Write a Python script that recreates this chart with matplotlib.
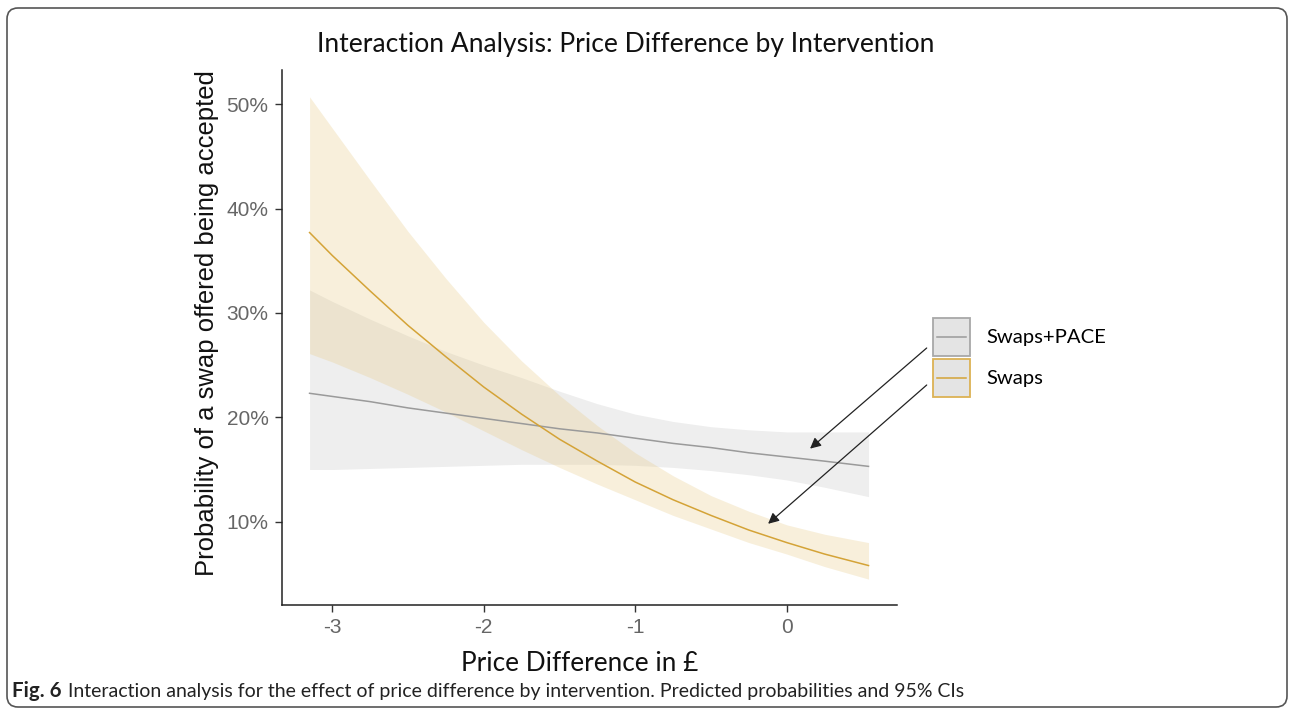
import matplotlib
matplotlib.use("Agg")
import matplotlib.pyplot as plt
from matplotlib.patches import FancyBboxPatch, Rectangle
from matplotlib.lines import Line2D
from matplotlib.transforms import IdentityTransform
from matplotlib.legend_handler import HandlerBase

# ---------------- data ----------------
price_diff = [-3.15, -3.0, -2.75, -2.5, -2.25, -2.0, -1.75, -1.5,
              -1.25, -1.0, -0.75, -0.5, -0.25, 0.0, 0.25, 0.54]

swaps_mid = [37.7, 35.5, 32.1, 28.8, 25.8, 22.9, 20.3, 17.9,
             15.8, 13.8, 12.1, 10.6, 9.2, 8.0, 6.9, 5.8]
swaps_lo = [26.1, 25.3, 23.8, 22.2, 20.5, 18.7, 16.9, 15.2,
            13.6, 12.1, 10.6, 9.3, 8.0, 6.9, 5.7, 4.5]
swaps_hi = [50.7, 47.7, 42.7, 37.8, 33.3, 29.1, 25.4, 22.1,
            19.2, 16.6, 14.4, 12.5, 11.0, 9.7, 8.8, 8.0]

pace_mid = [22.3, 22.0, 21.5, 20.9, 20.4, 19.9, 19.4, 18.9,
            18.5, 18.0, 17.5, 17.1, 16.6, 16.2, 15.8, 15.3]
pace_lo = [15.0, 15.0, 15.1, 15.2, 15.3, 15.4, 15.5, 15.5,
           15.5, 15.4, 15.2, 14.9, 14.5, 14.0, 13.3, 12.4]
pace_hi = [32.2, 31.1, 29.4, 27.8, 26.3, 25.0, 23.8, 22.5,
           21.3, 20.3, 19.6, 19.1, 18.8, 18.6, 18.6, 18.6]

series_names = ["Swaps+PACE", "Swaps"]
x_ticks = [-3, -2, -1, 0]
x_tick_labels = ["-3", "-2", "-1", "0"]
y_ticks = [10, 20, 30, 40, 50]
y_tick_labels = ["10%", "20%", "30%", "40%", "50%"]

title_text = "Interaction Analysis: Price Difference by Intervention"
xlabel_text = "Price Difference in \u00a3"
ylabel_text = "Probability of a swap offered being accepted"
caption_bold = "Fig. 6"
caption_text = ("Interaction analysis for the effect of price difference by intervention. "
                "Predicted probabilities and 95% CIs")

# ---------------- styling ----------------
W, H, DPI = 1292, 711, 100
GOLD = "#d4a337"
GOLD_FILL = (0.91, 0.80, 0.54)
GREY_LINE = "#9a9a9a"
GREY_FILL = (0.78, 0.78, 0.78)


def fx(p):
    return p / W


def fy(p):
    return 1 - p / H


class LegendKey:
    def __init__(self, edge, line):
        self.edge = edge
        self.line = line


class BoxLineHandler(HandlerBase):
    def create_artists(self, legend, orig_handle, xdescent, ydescent,
                       width, height, fontsize, trans):
        x0, y0 = -xdescent, -ydescent
        rect = Rectangle((x0, y0), width, height, facecolor="#e4e4e4",
                         edgecolor=orig_handle.edge, lw=1.3, transform=trans)
        cy = y0 + height / 2
        inset = width * 0.11
        ln = Line2D([x0 + inset, x0 + width - inset], [cy, cy],
                    color=orig_handle.line, lw=1.1, transform=trans)
        return [rect, ln]


fig = plt.figure(figsize=(W / DPI, H / DPI), dpi=DPI)
fig.patch.set_facecolor("white")

ax = fig.add_axes([fx(281.7), fy(605), (896.7 - 281.7) / W, (605 - 70) / H])
ax.fill_between(price_diff, pace_lo, pace_hi, color=GREY_FILL, alpha=0.3, lw=0)
ax.fill_between(price_diff, swaps_lo, swaps_hi, color=GOLD_FILL, alpha=0.3, lw=0)
ax.plot(price_diff, pace_mid, color=GREY_LINE, lw=1.1)
ax.plot(price_diff, swaps_mid, color=GOLD, lw=1.1)

ax.set_xlim(-3.334, 0.726)
ax.set_ylim(2.02, 53.27)
ax.set_xticks(x_ticks)
ax.set_xticklabels(x_tick_labels)
ax.set_yticks(y_ticks)
ax.set_yticklabels(y_tick_labels)
for s in ["top", "right"]:
    ax.spines[s].set_visible(False)
for s in ["left", "bottom"]:
    ax.spines[s].set_linewidth(1.1)
    ax.spines[s].set_color("#222222")
ax.tick_params(length=5, width=1.0, color="#333333", labelcolor="#666666",
               labelsize=15, pad=4.5)
for lab in ax.get_xticklabels() + ax.get_yticklabels():
    lab.set_fontfamily("Liberation Sans")


def fit(t, target):
    fig.canvas.draw()
    bb = t.get_window_extent(fig.canvas.get_renderer())
    size = bb.height if t.get_rotation() == 90 else bb.width
    t.set_fontsize(t.get_fontsize() * target / size)


# texts
t_title = fig.text(fx(626), fy(52), title_text, ha="center", va="baseline",
                   family="Lato", fontsize=18, color="#111111")
fit(t_title, 616)
t_xl = fig.text(fx(580), fy(671), xlabel_text, ha="center", va="baseline",
                family="Lato", fontsize=16, color="#111111")
fit(t_xl, 237)
t_yl = fig.text(fx(207), fy(323), ylabel_text, ha="center", va="center",
                rotation=90, family="Liberation Sans", fontsize=17, color="#111111")
fit(t_yl, 505)
t_cb = fig.text(fx(12), fy(697), caption_bold, ha="left", va="baseline",
                family="Lato", fontweight="bold", fontsize=12, color="#222222")
t_ct = fig.text(fx(68), fy(697), caption_text, ha="left", va="baseline",
                family="Lato", fontsize=12, color="#222222")
fit(t_ct, 895)
t_cb.set_fontsize(t_ct.get_fontsize() * 1.05)

# legend
tmp = fig.text(0, 0, series_names[0], fontsize=16, family="Lato")
fig.canvas.draw()
wtmp = tmp.get_window_extent(fig.canvas.get_renderer()).width
tmp.remove()
leg_fs = 16 * 120 / wtmp
fs_px = leg_fs * DPI / 72
box_h = 38.0
hh = (box_h / fs_px - 0.245) / 0.65
handles = [LegendKey("#a8a8a8", GREY_LINE), LegendKey("#dcb254", GOLD)]
fig.legend(handles, series_names, handler_map={LegendKey: BoxLineHandler()},
           loc="upper left", bbox_to_anchor=(fx(933), fy(318)),
           bbox_transform=fig.transFigure, frameon=False,
           prop={"family": "Lato", "size": leg_fs},
           handlelength=37 / fs_px, handleheight=hh,
           labelspacing=3 / fs_px, handletextpad=16 / fs_px,
           borderpad=0, borderaxespad=0)

# arrows from legend to lines
arrow_kw = dict(arrowstyle="-|>", color="#222222", lw=0.9, mutation_scale=16,
                shrinkA=0, shrinkB=0)
ax.annotate("", xy=(0.154, 17.0), xycoords="data",
            xytext=(fx(926.7), fy(348)), textcoords="figure fraction",
            arrowprops=arrow_kw, annotation_clip=False)
ax.annotate("", xy=(-0.123, 9.8), xycoords="data",
            xytext=(fx(926.7), fy(385)), textcoords="figure fraction",
            arrowprops=arrow_kw, annotation_clip=False)

# rounded frame around the whole figure
frame = FancyBboxPatch((7, 4), 1280, 699, boxstyle="round,pad=0,rounding_size=11",
                       transform=IdentityTransform(), fill=False,
                       edgecolor="#555555", lw=1.2)
fig.add_artist(frame)

fig.savefig("out.png", dpi=DPI, facecolor="white")
